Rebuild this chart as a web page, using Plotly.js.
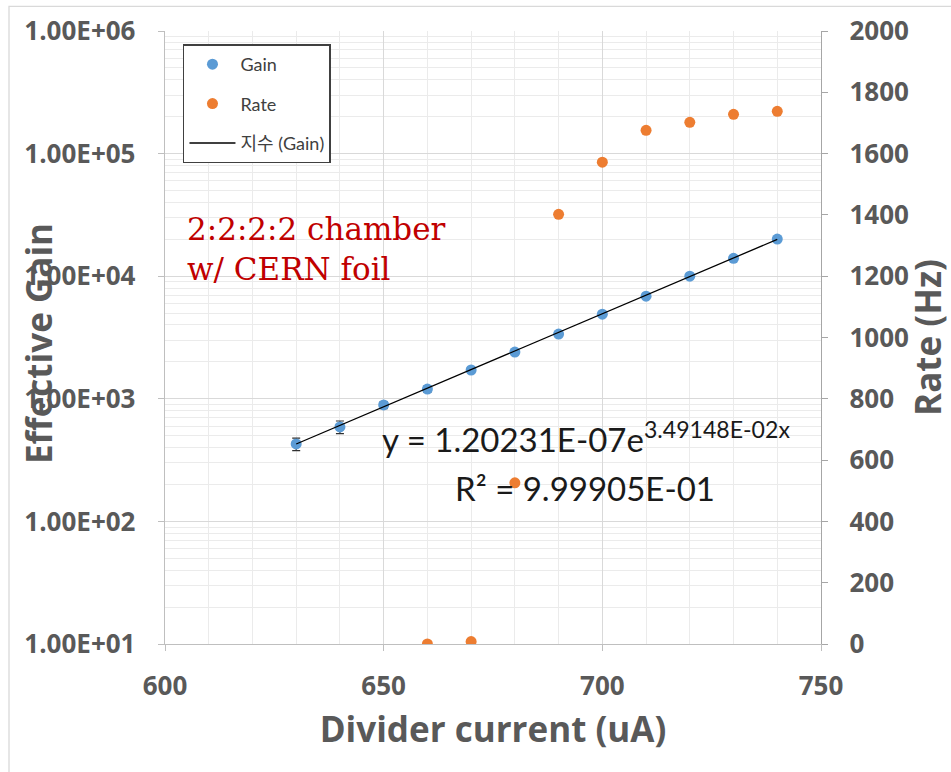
<!DOCTYPE html>
<html>
<head>
<meta charset="utf-8">
<script src="https://cdn.plot.ly/plotly-3.0.1.min.js"></script>
<style>html,body{margin:0;padding:0;background:#fff;}#chart{width:951px;height:772px;}</style>
</head>
<body>
<div id="chart"></div>
<script>
// Divider current (uA)
const currentGain = [630, 640, 650, 660, 670, 680, 690, 700, 710, 720, 730, 740];
const gainValues  = [428, 589, 891, 1200, 1718, 2404, 3370, 4900, 6870, 10000, 14000, 20100];
const gainErrors  = [50, 70, 60, 70, 80, 100, 120, 150, 200, 250, 400, 500];

const currentRate = [660, 670, 680, 690, 700, 710, 720, 730, 740];
const rateValues  = [0, 8, 526, 1402, 1572, 1676, 1702, 1728, 1738];

// exponential trendline endpoints
const trendX = [630, 740];
const trendY = [428, 19970];

const xTickVals = [600, 650, 700, 750];
const yTickVals = [10, 100, 1000, 10000, 100000, 1000000];
const yTickText = ["1.00E+01", "1.00E+02", "1.00E+03", "1.00E+04", "1.00E+05", "1.00E+06"];
const y2TickVals = [0, 200, 400, 600, 800, 1000, 1200, 1400, 1600, 1800, 2000];

const FONT = "'Open Sans', Lato, 'Noto Sans CJK KR', sans-serif";
const EQFONT = "Lato, 'Open Sans', sans-serif";
const GREY = "#595959";

const traces = [
  {
    x: currentGain, y: gainValues, name: "Gain", type: "scatter", mode: "markers",
    marker: {color: "#5b9bd5", size: 11},
    error_y: {type: "data", array: gainErrors, visible: true, color: "#303030", thickness: 1.2, width: 4},
    legendgroup: "a", yaxis: "y"
  },
  {
    x: currentRate, y: rateValues, name: "Rate", type: "scatter", mode: "markers",
    marker: {color: "#ed7d31", size: 11},
    legendgroup: "b", yaxis: "y2"
  },
  {
    x: trendX, y: trendY, name: "지수 (Gain)", type: "scatter", mode: "lines",
    line: {color: "#000000", width: 1.3},
    legendgroup: "c", yaxis: "y"
  }
];

const layout = {
  width: 951, height: 772,
  margin: {l: 165, r: 130, t: 31, b: 128, pad: 0},
  paper_bgcolor: "#ffffff", plot_bgcolor: "#ffffff",
  font: {family: FONT, color: GREY},
  showlegend: true,
  legend: {
    x: 0.0274, y: 0.978, xanchor: "left", yanchor: "top",
    bgcolor: "#ffffff", bordercolor: "#404040", borderwidth: 1.5,
    font: {family: "Lato, 'Noto Sans CJK KR', sans-serif", size: 18, color: "#404040"},
    traceorder: "grouped", tracegroupgap: 13, itemwidth: 46
  },
  xaxis: {
    range: [600, 750], tickmode: "array", tickvals: xTickVals,
    showline: true, linecolor: "#bfbfbf", linewidth: 1.3,
    ticks: "outside", ticklen: 6, tickcolor: "#bfbfbf",
    showgrid: true, gridcolor: "#d9d9d9", zeroline: false,
    minor: {dtick: 10, showgrid: true, gridcolor: "#ebebeb", ticks: ""},
    tickfont: {family: FONT, size: 26, color: GREY, weight: "bold"},
    ticklabelstandoff: 12,
    title: {text: "Divider current (uA)", font: {family: FONT, size: 35, color: GREY, weight: "bold"}, standoff: 16}
  },
  yaxis: {
    type: "log", range: [1, 6], tickmode: "array", tickvals: yTickVals, ticktext: yTickText,
    showline: true, linecolor: "#bfbfbf", linewidth: 1.3,
    ticks: "outside", ticklen: 6, tickcolor: "#bfbfbf",
    showgrid: true, gridcolor: "#d9d9d9", zeroline: false,
    minor: {dtick: "D1", showgrid: true, gridcolor: "#ebebeb", ticks: ""},
    tickfont: {family: FONT, size: 26, color: GREY, weight: "bold"},
    ticklabelstandoff: 17
  },
  yaxis2: {
    overlaying: "y", side: "right", range: [0, 2000], tickmode: "array", tickvals: y2TickVals,
    showline: true, linecolor: "#a6a6a6", linewidth: 1.3,
    ticks: "outside", ticklen: 6, tickcolor: "#a6a6a6",
    showgrid: false, zeroline: false,
    tickfont: {family: FONT, size: 26, color: GREY, weight: "bold"},
    ticklabelstandoff: 16,
    title: {text: "Rate (Hz)", font: {family: FONT, size: 35, color: GREY, weight: "bold"}, standoff: 0}
  },
  shapes: [
    {type: "rect", xref: "paper", yref: "paper", x0: -0.2378, x1: 1.3, y0: -0.3, y1: 1.0403,
     line: {color: "#d9d9d9", width: 1.3}, fillcolor: "rgba(0,0,0,0)", layer: "below"}
  ],
  annotations: [
    {xref: "paper", yref: "paper", x: -0.193, y: 0.49, xanchor: "center", yanchor: "middle",
     text: "Effective Gain", textangle: -90, showarrow: false,
     font: {family: FONT, size: 35, color: GREY, weight: "bold"}},
    {xref: "paper", yref: "paper", x: 0.0305, y: 0.644, xanchor: "left", yanchor: "middle", align: "left",
     text: "2:2:2:2 chamber<br>w/ CERN foil", showarrow: false,
     font: {family: "'DejaVu Serif', serif", size: 31, color: "#c00000"}},
    {xref: "paper", yref: "paper", x: 0.3277, y: 0.338, xanchor: "left", yanchor: "middle",
     text: "y = 1.20231E-07e<sup>3.49148E-02x</sup>", showarrow: false,
     font: {family: EQFONT, size: 33, color: "#1a1a1a"}},
    {xref: "paper", yref: "paper", x: 0.439, y: 0.2544, xanchor: "left", yanchor: "middle",
     text: "R² = 9.99905E-01", showarrow: false,
     font: {family: EQFONT, size: 33, color: "#1a1a1a"}}
  ]
};

Plotly.newPlot("chart", traces, layout, {displayModeBar: false, staticPlot: true});
</script>
</body>
</html>
